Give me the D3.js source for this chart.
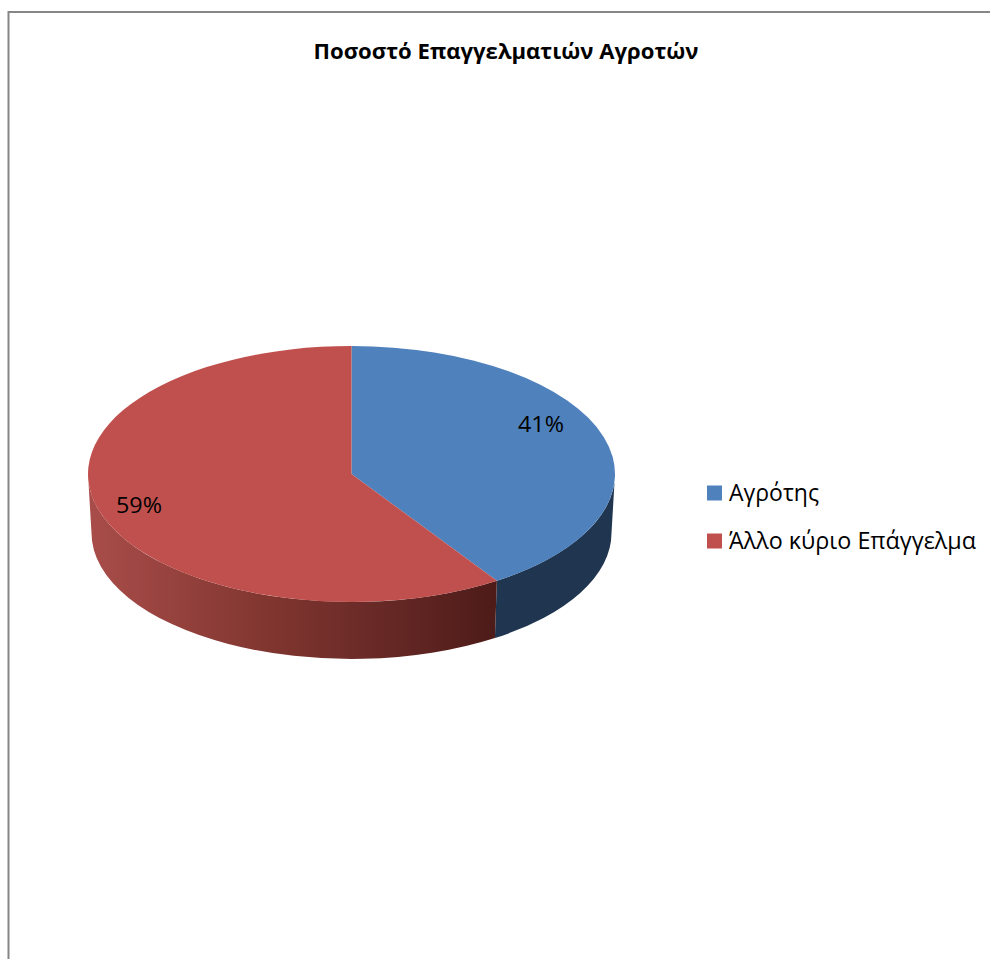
<!DOCTYPE html>
<html>
<head>
<meta charset="utf-8">
<script src="https://cdn.jsdelivr.net/npm/d3@7"></script>
<style>
html,body{margin:0;padding:0;background:#fff;overflow:hidden}
svg{display:block}
text{font-family:"Open Sans",sans-serif;fill:#000}
</style>
</head>
<body>
<svg id="chart" width="990" height="959"></svg>
<script>
const titleText = "Ποσοστό Επαγγελματιών Αγροτών";
const categories = ["Αγρότης", "Άλλο κύριο Επάγγελμα"];
const values = [40.7, 59.3];
const colors = ["#4f81bd", "#c0504d"];

const svg = d3.select('#chart');
const cx = 351.5, cy = 474, rx = 263.5, ry = 128;
// bottom rim is a bit smaller than the top, the picture has perspective
const cyB = 533, rxB = 260, ryB = 126;

// chart frame, only left and top are in the picture
svg.append('path')
    .attr('d', 'M8.5,959V12H990')
    .attr('fill', 'none')
    .attr('stroke', '#868686')
    .attr('stroke-width', 2);

svg.append('text')
    .attr('x', 506)
    .attr('y', 59)
    .attr('text-anchor', 'middle')
    .attr('font-size', 21)
    .attr('font-weight', 700)
    .attr('textLength', 385)
    .attr('lengthAdjust', 'spacingAndGlyphs')
    .text(titleText);

const pie = d3.pie().value(d => d).sort(null);
const slices = pie(values);

// gradient on the red wall
const defs = svg.append('defs');
const grad = defs.append('linearGradient')
    .attr('id', 'redSide')
    .attr('gradientUnits', 'userSpaceOnUse')
    .attr('x1', cx - rx).attr('x2', 496)
    .attr('y1', 0).attr('y2', 0);
[[0, '#a94d4a'], [0.45, '#80352f'], [0.7, '#692a27'], [1, '#4d1b18']].forEach(s => {
    grad.append('stop').attr('offset', s[0]).attr('stop-color', s[1]);
});

const px = a => cx + rx * Math.sin(a);
const py = a => cy - ry * Math.cos(a);
const pxB = a => cx + rxB * Math.sin(a);
const pyB = a => cyB - ryB * Math.cos(a);

function wall(a0, a1) {
    return 'M' + px(a0) + ',' + py(a0)
        + 'A' + rx + ',' + ry + ' 0 0 1 ' + px(a1) + ',' + py(a1)
        + 'L' + pxB(a1) + ',' + pyB(a1)
        + 'A' + rxB + ',' + ryB + ' 0 0 0 ' + pxB(a0) + ',' + pyB(a0)
        + 'Z';
}

// only the front half of the rim is seen
const front0 = Math.PI / 2, front1 = Math.PI * 1.5;
svg.append('g').selectAll('path')
    .data(slices)
    .enter()
    .append('path')
    .attr('d', d => wall(Math.max(d.startAngle, front0), Math.min(d.endAngle, front1)))
    .attr('fill', (d, i) => i == 0 ? '#1f3550' : 'url(#redSide)');

const arc = d3.arc().innerRadius(0).outerRadius(rx);
svg.append('g')
    .attr('transform', 'translate(' + cx + ',' + cy + ') scale(1,' + (ry / rx) + ')')
    .selectAll('path')
    .data(slices)
    .enter()
    .append('path')
    .attr('d', arc)
    .attr('fill', (d, i) => colors[i]);

// data labels
const labelX = [541, 139];
const labelY = [432, 513];
svg.append('g').selectAll('text')
    .data(values)
    .enter()
    .append('text')
    .attr('x', (d, i) => labelX[i])
    .attr('y', (d, i) => labelY[i])
    .attr('text-anchor', 'middle')
    .attr('font-size', 21)
    .attr('textLength', 46)
    .attr('lengthAdjust', 'spacingAndGlyphs')
    .text(d => Math.round(d) + '%');

// legend
const legendWidths = [90, 247];
const legendY = d3.scaleOrdinal().domain(categories).range([493, 541]);
const legend = svg.append('g').selectAll('g')
    .data(categories)
    .enter()
    .append('g');
legend.append('rect')
    .attr('x', 707)
    .attr('y', d => legendY(d) - 7.5)
    .attr('width', 15)
    .attr('height', 15)
    .attr('fill', (d, i) => colors[i]);
legend.append('text')
    .attr('x', 729)
    .attr('y', d => legendY(d) + 8)
    .attr('font-size', 23)
    .attr('textLength', (d, i) => legendWidths[i])
    .attr('lengthAdjust', 'spacingAndGlyphs')
    .text(d => d);
</script>
</body>
</html>
